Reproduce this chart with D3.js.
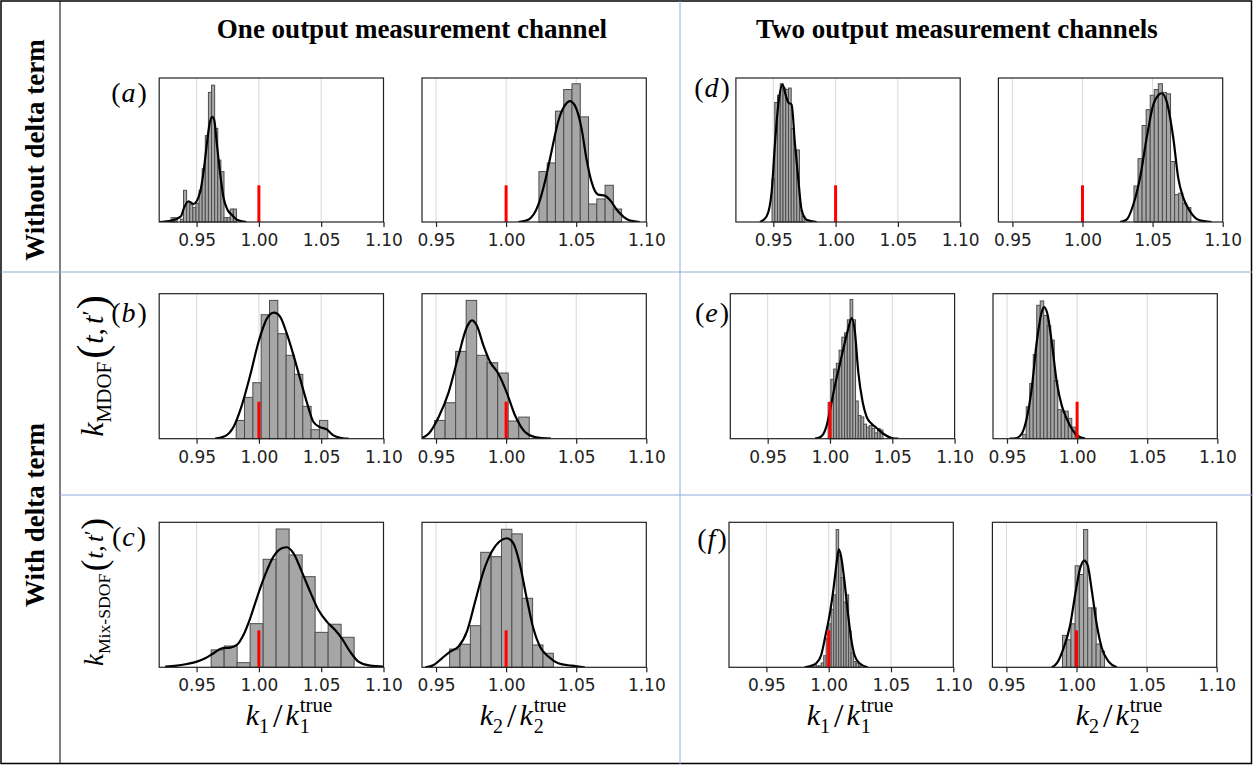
<!DOCTYPE html>
<html>
<head>
<meta charset="utf-8">
<script src="https://cdn.jsdelivr.net/npm/d3@7"></script>
<style>
  body { margin: 0; background: #fff; }
  svg { display: block; }
</style>
</head>
<body>
<div id="app"></div>
<script>
// ---- data (heights in % of the axes height) ----
const tickValues = [0.95, 1.00, 1.05, 1.10];
const columnTitles = ["One output measurement channel", "Two output measurement channels"];
const rowTitles = ["Without delta term", "With delta term"];
const panelLetters = ["a", "b", "c", "d", "e", "f"];
const yLabelSubs = ["MDOF", "Mix-SDOF"];
const trueValue = 1.0;
const trueMarkHeight = 25.5;

// panel order: a-k1, a-k2, d-k1, d-k2, b-k1, b-k2, e-k1, e-k2, c-k1, c-k2, f-k1, f-k2
const binStart = [0.9295, 1.0234, 0.9490, 1.0367, 0.9818, 0.9490, 0.9985, 0.9612, 0.9617, 0.9597, 0.9860, 0.9900];
const binWidth = [0.0025, 0.0059, 0.0022, 0.0029, 0.00668, 0.0075, 0.0022, 0.0025, 0.01043, 0.0074, 0.0020, 0.0030];

const countsA1 = [3, 3, 0, 2, 22, 14, 12, 10, 13, 22, 37, 60, 90, 95, 65, 43, 35, 3, 3, 9, 9];
const countsA2 = [35, 41, 77, 92, 96, 73, 12.5, 16, 25.5, 9];
const countsD1 = [30, 83, 88, 96, 93, 92, 93, 65, 50, 50, 8, 4];
const countsD2 = [25, 44, 67, 78, 88, 92, 96, 90, 89, 42, 19, 20, 13, 10];
const countsB1 = [12.6, 28.5, 38.6, 85.5, 95.4, 72.4, 57.5, 44.4, 22.3, 6.2, 12.6];
const countsB2 = [12.6, 24.8, 60.2, 95.4, 57.5, 52.4, 45.3, 12.2, 14.9];
const countsE1 = [25, 41, 48, 52, 61, 70, 73, 82, 96, 82, 26, 16, 15, 10, 8, 9, 7, 4, 7, 6];
const countsE2 = [3, 22, 38, 58, 92, 95, 85, 78, 68, 40, 20, 19, 19, 14, 8, 2];
const countsC1 = [12, 14.7, 3.2, 30.1, 74.5, 95.4, 77.5, 62.5, 24.1, 29.7, 20.7];
const countsC2 = [12.6, 15.9, 28.7, 79.3, 76.3, 95.2, 92, 47.6, 15.4, 9.7];
const countsF1 = [1, 2, 1, 1, 3, 8, 20, 30, 40, 50, 95, 77, 62, 45, 50, 25, 10, 4, 3, 1];
const countsF2 = [22, 19, 30, 70, 64, 95, 41, 41, 16, 11];

const kdeA1 = [[0.92,0],[0.93,1],[0.9374,4],[0.94,10],[0.9435,14.4],[0.9475,12.5],[0.9529,21],[0.9556,35],[0.9582,54],[0.9604,68],[0.9625,73],[0.9641,71],[0.9663,54],[0.969,33],[0.9716,17],[0.9748,8.5],[0.9783,5],[0.9823,1.6],[0.990,0]];
const kdeA2 = [[1.0087,0],[1.0158,1.6],[1.023,12],[1.0277,28],[1.0324,49],[1.0372,70],[1.0419,81],[1.0455,84],[1.049,81],[1.0538,65],[1.0573,44],[1.0609,28],[1.0656,19],[1.0704,18.3],[1.0739,15.5],[1.0798,7.4],[1.087,1.6],[1.0953,0]];
const kdeD1 = [[0.9393,0],[0.9447,4],[0.9487,21],[0.9513,54],[0.954,81.5],[0.9575,95.4],[0.96,88],[0.962,83],[0.9647,81.5],[0.9674,54],[0.97,30.5],[0.9727,8.5],[0.9767,1.6],[0.9848,0]];
const kdeD2 = [[1.0267,0],[1.0314,1.6],[1.0362,12],[1.041,30.5],[1.0457,58],[1.0505,81.5],[1.054,88],[1.0564,89.4],[1.06,83.8],[1.0648,58],[1.0683,30.5],[1.0719,16.7],[1.0767,7.4],[1.0826,1.6],[1.0921,0]];
const kdeB1 = [[0.9649,0],[0.973,1.8],[0.9796,8],[0.9863,23],[0.993,43.7],[0.9997,66.7],[1.0064,82.8],[1.0122,86.9],[1.0171,84],[1.0224,72.4],[1.0278,57.5],[1.0331,41.4],[1.0384,25.3],[1.0438,11.5],[1.0491,8],[1.0545,6.4],[1.0598,2.3],[1.0665,0.5],[1.0719,0]];
const kdeB2 = [[0.94,0.5],[0.9447,3.4],[0.9519,15],[0.959,32],[0.9661,57.5],[0.972,77],[0.9756,81.6],[0.9791,78],[0.9838,64.4],[0.9886,52.9],[0.9945,44.8],[1.0004,32],[1.0064,16],[1.0135,4.6],[1.0206,1.1],[1.032,0]];
const kdeE1 = [[0.988,0],[0.9933,1.8],[0.9973,9],[1.0,19.5],[1.004,36.8],[1.008,51.7],[1.012,66.7],[1.0147,75.9],[1.0174,83.2],[1.02,73.6],[1.0227,46],[1.0262,25.3],[1.0294,15],[1.0334,10.3],[1.0374,7.4],[1.0428,3.4],[1.0495,0.5],[1.0548,0]];
const kdeE2 = [[0.952,0],[0.9569,0.5],[0.9605,3.4],[0.964,13.8],[0.9676,34.5],[0.9712,66.7],[0.9748,87.4],[0.9764,90.8],[0.9788,86.2],[0.9819,66.7],[0.9855,39],[0.989,23],[0.9926,13.8],[0.9962,6.9],[0.9998,2.3],[1.0057,0]];
const kdeC1 = [[0.9248,0.5],[0.9342,1.1],[0.9422,2.3],[0.9502,3.9],[0.9569,6.2],[0.9636,9.7],[0.9703,13.1],[0.977,13.6],[0.9823,15.4],[0.9876,22.3],[0.993,33.8],[0.9983,47.6],[1.005,63.7],[1.0117,76.3],[1.0184,82.1],[1.0224,82.8],[1.0278,78.6],[1.0344,66],[1.0411,52.2],[1.0478,39.5],[1.0545,31.5],[1.0612,25.7],[1.0665,20],[1.0732,10.8],[1.0799,3.9],[1.0893,1.1],[1.1,0.5]];
const kdeC2 = [[0.9424,0],[0.9483,1.6],[0.9542,6.2],[0.9601,10.8],[0.9661,14.3],[0.972,24.6],[0.9779,45.3],[0.9838,66],[0.9898,79.8],[0.9957,87.1],[1.0004,89],[1.0052,85.5],[1.0099,70.6],[1.0147,47.6],[1.0194,26.9],[1.0241,14.3],[1.0301,7.4],[1.0372,2.8],[1.0467,1.1],[1.0561,0]];
const kdeF1 = [[0.9807,0],[0.986,1.1],[0.99,2.8],[0.994,8.5],[0.9975,22.3],[1.0007,36],[1.0039,54.5],[1.0065,72.9],[1.0081,81.4],[1.01,76.3],[1.0127,59],[1.0153,38.4],[1.018,20],[1.0207,8.5],[1.0247,2.8],[1.0313,0]];
const kdeF2 = [[0.9824,0],[0.986,2.8],[0.9907,13.1],[0.9955,29.2],[0.999,49.9],[1.0026,68.3],[1.0055,73.6],[1.0079,70.6],[1.011,52.2],[1.0145,29.2],[1.0181,13.1],[1.0229,3.9],[1.0288,0]];

const allCounts = [countsA1, countsA2, countsD1, countsD2, countsB1, countsB2, countsE1, countsE2, countsC1, countsC2, countsF1, countsF2];
const allKde = [kdeA1, kdeA2, kdeD1, kdeD2, kdeB1, kdeB2, kdeE1, kdeE2, kdeC1, kdeC2, kdeF1, kdeF2];

// ---- layout ----
const width = 1253, height = 765;
const serif = "'Liberation Serif', 'Times New Roman', serif";
const sans = "'DejaVu Sans', sans-serif";
const lineBlue = "#8eaadb";

const svg = d3.select('#app').append('svg')
    .attr('width', width).attr('height', height)
    .style('background', '#fff');

// plot areas: right edge (value 1.10), left domain limit; rows top/bottom
const colRight = [[383.5, 646.3, 960.2, 1222.7], [383.5, 646.3, 954.6, 1217.3], [383.5, 646.3, 953.3, 1216.7]];
const colLo = [0.92, 0.94, 0.92, 0.94];
const rowY = [[78, 222], [293.7, 438.7], [522.3, 667.3]];

// table frame
const table = svg.append('g');
table.append('rect').attr('x', 1).attr('y', 1).attr('width', width - 2.5).attr('height', height - 2.5)
    .attr('fill', 'none').attr('stroke', '#000').attr('stroke-width', 1.5);
table.append('line').attr('x1', 60).attr('x2', 60).attr('y1', 1).attr('y2', height - 1)
    .attr('stroke', '#000').attr('stroke-width', 1);
table.append('line').attr('x1', 680).attr('x2', 680).attr('y1', 1).attr('y2', height - 1)
    .attr('stroke', lineBlue).attr('stroke-width', 1);
table.append('line').attr('x1', 1).attr('x2', width - 1).attr('y1', 272).attr('y2', 272)
    .attr('stroke', lineBlue).attr('stroke-width', 1);
table.append('line').attr('x1', 60).attr('x2', width - 1).attr('y1', 495).attr('y2', 495)
    .attr('stroke', lineBlue).attr('stroke-width', 1);

// headers
[412, 957].forEach((cx, i) => {
    svg.append('text').attr('x', cx).attr('y', 38).attr('text-anchor', 'middle')
        .attr('font-family', serif).attr('font-weight', 'bold').attr('font-size', 27)
        .text(columnTitles[i]);
});
[[35, 150], [35, 515]].forEach(([cx, cy], i) => {
    svg.append('text').attr('transform', `translate(${cx + 9},${cy}) rotate(-90)`)
        .attr('text-anchor', 'middle')
        .attr('font-family', serif).attr('font-weight', 'bold').attr('font-size', 27)
        .text(rowTitles[i]);
});

// ---- panels ----
allCounts.forEach((counts, i) => {
    const row = Math.floor(i / 4), col = i % 4;
    const x1 = colRight[row][col];
    const x0 = x1 - 224.3;
    const [y0, y1] = rowY[row];
    const x = d3.scaleLinear().domain([colLo[col], 1.10]).range([x0, x1]);
    const y = d3.scaleLinear().domain([0, 100]).range([y1, y0]);
    const g = svg.append('g');

    const clipId = `clip${i}`;
    g.append('clipPath').attr('id', clipId).append('rect')
        .attr('x', x0).attr('y', y0).attr('width', x1 - x0).attr('height', y1 - y0);

    g.selectAll('line.grid').data(tickValues.slice(0, 3)).join('line')
        .attr('class', 'grid')
        .attr('x1', d => x(d)).attr('x2', d => x(d)).attr('y1', y0).attr('y2', y1)
        .attr('stroke', '#d9d9d9').attr('stroke-width', 1);

    const bins = counts.map((c, k) => ({
        a: binStart[i] + k * binWidth[i], b: binStart[i] + (k + 1) * binWidth[i], c
    }));
    g.append('g').selectAll('rect').data(bins).join('rect')
        .attr('x', d => x(d.a)).attr('width', d => x(d.b) - x(d.a))
        .attr('y', d => y(d.c)).attr('height', d => y(0) - y(d.c))
        .attr('fill', '#a6a6a6').attr('stroke', '#4d4d4d').attr('stroke-width', 1);

    g.append('path').datum(allKde[i])
        .attr('clip-path', `url(#${clipId})`)
        .attr('fill', 'none').attr('stroke', '#000').attr('stroke-width', 2.2)
        .attr('d', d3.line().x(d => x(d[0])).y(d => y(d[1])).curve(d3.curveMonotoneX));

    g.append('line')
        .attr('x1', x(trueValue)).attr('x2', x(trueValue))
        .attr('y1', y(0)).attr('y2', y(trueMarkHeight))
        .attr('stroke', 'red').attr('stroke-width', 3);

    g.append('rect').attr('x', x0).attr('y', y0).attr('width', x1 - x0).attr('height', y1 - y0)
        .attr('fill', 'none').attr('stroke', '#222').attr('stroke-width', 1.2);

    const axis = g.append('g').attr('transform', `translate(0,${y1})`)
        .call(d3.axisBottom(x).tickValues(tickValues).tickFormat(d3.format('.2f')).tickSize(5).tickSizeOuter(0));
    axis.select('.domain').remove();
    axis.selectAll('line').attr('stroke', '#222').attr('stroke-width', 1.2);
    axis.selectAll('text').attr('font-family', sans).attr('font-size', 17)
        .attr('fill', '#222').attr('dy', 0).attr('y', 24);
});

// ---- math-style labels ----
function mathLabel(parent, parts) {
    const g = parent.append('g');
    let cursor = 0, prevStart = 0, prevW = 0;
    parts.forEach(p => {
        const t = g.append('text')
            .attr('font-family', serif).attr('font-size', p.size)
            .attr('font-style', p.italic ? 'italic' : 'normal')
            .attr('y', p.dy || 0).text(p.t);
        const w = t.node().getComputedTextLength();
        if (p.stack) {
            t.attr('x', prevStart);
            cursor = prevStart + Math.max(prevW, w) + (p.gap || 0);
        } else {
            cursor += (p.pre || 0);
            t.attr('x', cursor);
            prevStart = cursor; prevW = w;
            cursor += w + (p.gap || 0);
        }
    });
    g.selectAll('text').attr('dx', -cursor / 2);
    return g;
}

const xLabel = n => [
    { t: 'k', size: 30, italic: true },
    { t: n, size: 20, dy: 8, gap: 4 },
    { t: '/', size: 34, dy: 2, gap: 3 },
    { t: 'k', size: 30, italic: true, gap: 1 },
    { t: 'true', size: 21, dy: -13 },
    { t: n, size: 20, dy: 8, stack: true }
];
[[289, '1'], [523, '2'], [850, '1'], [1119, '2']].forEach(([cx, n]) => {
    mathLabel(svg.append('g').attr('transform', `translate(${cx},725)`), xLabel(n));
});

const yLabel = sub => [
    { t: 'k', size: 32, italic: true },
    { t: sub, size: 21, dy: 8, gap: 3 },
    { t: '(', size: 42, dy: 3, gap: 1 },
    { t: 't', size: 30, italic: true },
    { t: ',', size: 30, gap: 4 },
    { t: 't', size: 30, italic: true },
    { t: '\u2032', size: 24, dy: -5, gap: 1 },
    { t: ')', size: 42, dy: 3 }
];
[[103, 366, 1], [103, 592, 0.84]].forEach(([cx, cy, s], i) => {
    mathLabel(svg.append('g').attr('transform', `translate(${cx},${cy}) rotate(-90) scale(${s})`), yLabel(yLabelSubs[i]));
});

// panel letters
[[129, 102], [129, 322], [129, 546], [712, 97], [712, 322], [712, 548]].forEach(([cx, by], i) => {
    mathLabel(svg.append('g').attr('transform', `translate(${cx},${by})`), [
        { t: '(', size: 28, gap: 1 },
        { t: panelLetters[i], size: 28, italic: true, gap: 2 },
        { t: ')', size: 28 }
    ]);
});
</script>
</body>
</html>
